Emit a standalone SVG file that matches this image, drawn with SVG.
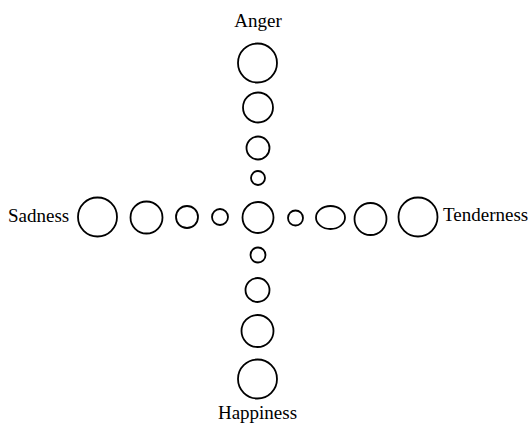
<svg xmlns="http://www.w3.org/2000/svg" width="531" height="423" viewBox="0 0 531 423">
<style>
.c{fill:none;stroke:#000;stroke-width:1.8}
.t{font-family:"Liberation Serif","Times New Roman",serif;font-size:19px;fill:#000}
</style>
<rect width="531" height="423" fill="#fff"/>
<g id="connectors"></g>
<g id="center"><circle class="c" cx="258" cy="217.5" r="15.5"/></g>
<g id="anger">
<text class="t" x="258" y="27" text-anchor="middle">Anger</text>
<circle class="c" cx="257.5" cy="63" r="19.5"/>
<circle class="c" cx="258" cy="107.5" r="15"/>
<circle class="c" cx="258" cy="148" r="11.5"/>
<circle class="c" cx="258" cy="178" r="7"/>
</g>
<g id="happiness">
<circle class="c" cx="258" cy="255" r="7.5"/>
<circle class="c" cx="257.5" cy="290" r="12"/>
<circle class="c" cx="257.5" cy="331" r="16"/>
<circle class="c" cx="257.5" cy="379" r="19.5"/>
<text class="t" x="257.5" y="419" text-anchor="middle">Happiness</text>
</g>
<g id="sadness">
<text class="t" x="8" y="222">Sadness</text>
<circle class="c" cx="97.5" cy="217" r="19.5"/>
<circle class="c" cx="146.5" cy="217.5" r="16"/>
<circle class="c" cx="187" cy="217" r="11"/>
<circle class="c" cx="220" cy="217" r="8"/>
</g>
<g id="tenderness">
<circle class="c" cx="295.5" cy="218" r="7.5"/>
<ellipse class="c" cx="330.5" cy="217.5" rx="14.5" ry="11.5"/>
<circle class="c" cx="370.5" cy="219" r="16"/>
<circle class="c" cx="418" cy="217" r="19.5"/>
<text class="t" x="443" y="221">Tenderness</text>
</g>
</svg>
